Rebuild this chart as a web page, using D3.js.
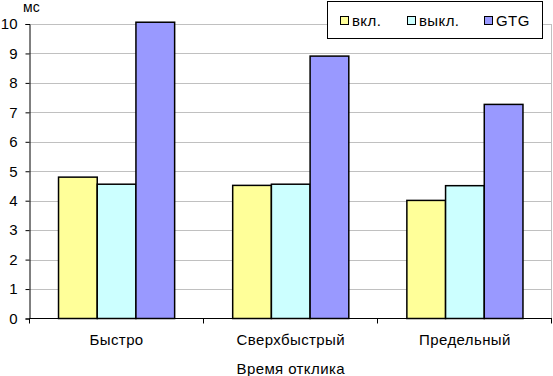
<!DOCTYPE html>
<html>
<head>
<meta charset="utf-8">
<script src="https://cdn.jsdelivr.net/npm/d3@7"></script>
<style>
  body { margin: 0; background: #fff; }
  svg { display: block; }
  text { font-family: "Liberation Sans", Arial, sans-serif; fill: #000; }
</style>
</head>
<body>
<svg width="553" height="376"></svg>
<script>
// Chart data
var categories = ["Быстро", "Сверхбыстрый", "Предельный"];
var seriesNames = ["вкл.", "выкл.", "GTG"];
var valuesOn = [4.8, 4.52, 4.01];
var valuesOff = [4.56, 4.56, 4.51];
var valuesGtg = [10.06, 8.91, 7.27];
var yTicks = [0, 1, 2, 3, 4, 5, 6, 7, 8, 9, 10];
var colors = ["#ffff99", "#ccffff", "#9999ff"];

var svg = d3.select("svg");
var plotLeft = 29.5, plotRight = 552, plotTop = 24, plotBottom = 318.5;

var x = d3.scaleBand()
    .domain(categories)
    .range([plotLeft, plotRight]);

var xInner = d3.scaleBand()
    .domain(seriesNames)
    .range([0, x.bandwidth()])
    .paddingOuter(0.75)
    .paddingInner(0);

var y = d3.scaleLinear()
    .domain([0, 10])
    .range([plotBottom, plotTop]);

// gridlines
svg.append("g")
    .selectAll("line")
    .data(yTicks.filter(d => d > 0))
    .enter()
    .append("line")
    .attr("x1", plotLeft)
    .attr("x2", plotRight)
    .attr("y1", d => Math.round(y(d)) + 0.5)
    .attr("y2", d => Math.round(y(d)) + 0.5)
    .attr("stroke", "#c0c0c0")
    .attr("stroke-width", 1);

// right border of the plot area
svg.append("line")
    .attr("x1", plotRight - 0.5).attr("x2", plotRight - 0.5)
    .attr("y1", Math.round(y(10)) + 0.5).attr("y2", plotBottom)
    .attr("stroke", "#c0c0c0");

// bars
var rows = categories.map(function (c, i) {
    return { cat: c, vals: [valuesOn[i], valuesOff[i], valuesGtg[i]] };
});

var groups = svg.append("g")
    .selectAll("g")
    .data(rows)
    .enter()
    .append("g")
    .attr("transform", d => "translate(" + x(d.cat) + ",0)");

groups.selectAll("rect")
    .data(d => d.vals.map((v, j) => ({ name: seriesNames[j], v: v, j: j })))
    .enter()
    .append("rect")
    .attr("x", d => xInner(d.name))
    .attr("y", d => y(d.v))
    .attr("width", xInner.bandwidth())
    .attr("height", d => plotBottom - y(d.v))
    .attr("fill", d => colors[d.j])
    .attr("stroke", "#000")
    .attr("stroke-width", 1.5);

// y axis
var yAxis = d3.axisLeft(y)
    .tickValues(yTicks)
    .tickSize(4)
    .tickPadding(8)
    .tickFormat(d3.format("d"));

var yg = svg.append("g")
    .attr("transform", "translate(" + plotLeft + ",0)")
    .call(yAxis);
yg.select(".domain").attr("stroke", "#000");
yg.selectAll(".tick line").attr("stroke", "#000");
yg.selectAll(".tick text")
    .attr("font-size", "15px")
    .attr("font-family", "Liberation Sans, Arial, sans-serif")
    .attr("fill", "#000");

// x axis
var xAxis = d3.axisBottom(x)
    .tickSize(0)
    .tickPadding(16);

var xg = svg.append("g")
    .attr("transform", "translate(0," + plotBottom + ")")
    .call(xAxis);
xg.select(".domain").attr("stroke", "#000").attr("d", "M" + plotLeft + ",0H" + plotRight);
xg.selectAll(".tick text")
    .attr("font-size", "15px")
    .attr("letter-spacing", "0.4px")
    .attr("font-family", "Liberation Sans, Arial, sans-serif")
    .attr("fill", "#000");

// category boundary ticks
svg.append("g")
    .selectAll("line")
    .data(categories.map(c => x(c)).concat([plotRight]))
    .enter()
    .append("line")
    .attr("x1", d => Math.round(d) - 0.5)
    .attr("x2", d => Math.round(d) - 0.5)
    .attr("y1", plotBottom)
    .attr("y2", plotBottom + 5)
    .attr("stroke", "#000");

// axis titles
svg.append("text")
    .attr("x", 23)
    .attr("y", 12)
    .attr("font-size", "14px")
    .text("мс");

svg.append("text")
    .attr("x", (plotLeft + plotRight) / 2)
    .attr("y", 374)
    .attr("text-anchor", "middle")
    .attr("font-size", "15px")
    .attr("letter-spacing", "0.4px")
    .text("Время отклика");

// legend
var legend = svg.append("g");
legend.append("rect")
    .attr("x", 327.5).attr("y", 1.5)
    .attr("width", 215).attr("height", 37)
    .attr("fill", "#fff")
    .attr("stroke", "#000");

var legendX = [340, 407, 484];
var items = legend.selectAll("g.item")
    .data(seriesNames)
    .enter()
    .append("g")
    .attr("class", "item")
    .attr("transform", (d, i) => "translate(" + legendX[i] + ",0)");

items.append("rect")
    .attr("x", 0.5).attr("y", 16.5)
    .attr("width", 8).attr("height", 8)
    .attr("fill", (d, i) => colors[i])
    .attr("stroke", "#000");

items.append("text")
    .attr("x", 12)
    .attr("y", 26)
    .attr("font-size", "15px")
    .attr("letter-spacing", "0.4px")
    .text(d => d);
</script>
</body>
</html>
